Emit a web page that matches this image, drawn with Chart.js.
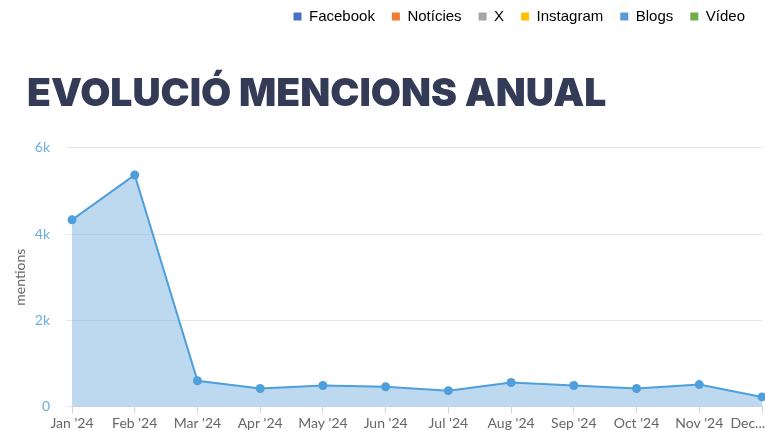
<!DOCTYPE html>
<html>
<head>
<meta charset="utf-8">
<script src="https://cdn.jsdelivr.net/npm/chart.js@4/dist/chart.umd.min.js"></script>
<style>
  html, body { margin: 0; padding: 0; background: #fff; }
  #wrap { width: 765px; height: 431px; }
</style>
</head>
<body>
<div id="wrap"><canvas id="chartCanvas" width="765" height="431"></canvas></div>
<script>
// Dades
const months = ["Jan '24", "Feb '24", "Mar '24", "Apr '24", "May '24", "Jun '24",
                "Jul '24", "Aug '24", "Sep '24", "Oct '24", "Nov '24", "Dec '24"];
const mentions = [4330, 5370, 600, 420, 490, 460, 370, 560, 490, 420, 510, 225];
const yTicks = [0, 2000, 4000, 6000];
const legendNames = ['Facebook', 'Notícies', 'X', 'Instagram', 'Blogs', 'Vídeo'];
const legendColors = ['#4472c4', '#ed7d31', '#a5a5a5', '#ffc000', '#5b9bd5', '#70ad47'];

const ctx = document.getElementById('chartCanvas').getContext('2d');

// l'última etiqueta queda tallada a la dreta, com a l'original
const lastLabelPlugin = {
    id: 'lastLabel',
    beforeDraw(chart) {
        const items = chart.scales.x.getLabelItems();
        const last = items[items.length - 1];
        if (last) {
            last.options.textAlign = 'right';
            last.options.translation[0] = chart.width;
        }
    }
};

const chart = new Chart(ctx, {
    type: 'line',
    data: {
        labels: months,
        datasets: [{
            label: 'mentions',
            data: mentions,
            borderColor: '#4f9fdb',
            backgroundColor: 'rgba(122, 180, 226, 0.5)',
            borderWidth: 2,
            pointRadius: 4.5,
            pointHoverRadius: 4.5,
            pointBackgroundColor: '#4f9fdb',
            pointBorderWidth: 0,
            tension: 0,
            fill: 'origin',
            clip: false
        }]
    },
    options: {
        responsive: false,
        animation: false,
        layout: {
            autoPadding: false,
            padding: { top: -8, right: 3, left: 27, bottom: 0 }
        },
        plugins: {
            tooltip: { enabled: false },
            legend: {
                position: 'top',
                align: 'end',
                labels: {
                    boxWidth: 8,
                    boxHeight: 8,
                    padding: 17,
                    color: '#595959',
                    font: { family: 'Liberation Sans', size: 15 },
                    generateLabels: () => legendNames.map((name, i) => ({
                        text: name,
                        fillStyle: legendColors[i],
                        strokeStyle: legendColors[i],
                        lineWidth: 0,
                        hidden: false,
                        datasetIndex: 0
                    }))
                }
            },
            title: {
                display: true,
                text: 'EVOLUCIÓ MENCIONS ANUAL',
                align: 'start',
                weight: 500,
                color: '#343b56',
                font: { family: 'Inter', size: 39, weight: '900' },
                padding: { top: 37, bottom: 30 }
            }
        },
        scales: {
            x: {
                offset: false,
                afterFit: (scale) => {
                    scale.height = 24;
                    scale.paddingLeft = 0;
                    scale.paddingRight = 0;
                },
                grid: {
                    drawOnChartArea: false,
                    tickLength: 7,
                    color: '#ccd6eb'
                },
                border: { color: '#ccd6eb' },
                ticks: {
                    color: '#666666',
                    padding: 1,
                    maxRotation: 0,
                    autoSkip: false,
                    font: { family: 'Lato', size: 14 },
                    callback: (v, i) => i === months.length - 1 ? 'Dec...' : months[i]
                }
            },
            y: {
                min: 0,
                max: 6000,
                afterFit: (scale) => { scale.width = 45; },
                afterBuildTicks: (scale) => { scale.ticks = yTicks.map(v => ({ value: v })); },
                grid: {
                    color: '#e6e6e6',
                    tickLength: 6
                },
                border: { display: false },
                ticks: {
                    color: '#6aaee3',
                    padding: 16,
                    font: { family: 'Lato', size: 14 },
                    callback: (v) => v === 0 ? '0' : (v / 1000) + 'k'
                },
                title: {
                    display: true,
                    text: 'mentions',
                    color: '#666666',
                    font: { family: 'Lato', size: 14 },
                    padding: { top: -15, bottom: 0 }
                }
            }
        }
    },
    plugins: [lastLabelPlugin]
});
</script>
</body>
</html>
